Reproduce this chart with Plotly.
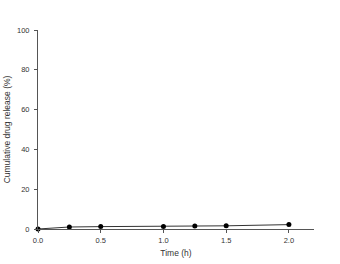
import plotly.graph_objects as go

time_h = [0.0, 0.25, 0.5, 1.0, 1.25, 1.5, 2.0]
release_pct = [0.0, 1.0, 1.2, 1.3, 1.5, 1.6, 2.2]
x_ticks = [0.0, 0.5, 1.0, 1.5, 2.0]
x_tick_labels = ["0.0", "0.5", "1.0", "1.5", "2.0"]
y_ticks = [0, 20, 40, 60, 80, 100]

fig = go.Figure()
fig.add_trace(go.Scatter(
    x=time_h, y=release_pct, mode="lines+markers",
    line=dict(color="#333333", width=1),
    marker=dict(color="black", size=5),
    cliponaxis=False, showlegend=False,
))

font = dict(family="Liberation Sans, Arial, sans-serif", size=7.5, color="#333333")
fig.update_layout(
    width=340, height=264,
    margin=dict(l=38, r=26, t=30, b=35),
    paper_bgcolor="white", plot_bgcolor="white",
    font=font,
    xaxis=dict(range=[0, 2.2], tickvals=x_ticks, ticktext=x_tick_labels,
               showgrid=False, zeroline=False, showline=True, automargin=False,
               linecolor="#555555", linewidth=1, ticks="outside",
               ticklen=3, tickcolor="#555555", ticklabelstandoff=1,
               title=dict(text="Time (h)", font=dict(size=8.5), standoff=6)),
    yaxis=dict(range=[0, 100], tickvals=y_ticks,
               showgrid=False, zeroline=False, showline=True, automargin=False,
               linecolor="#555555", linewidth=1, ticks="outside",
               ticklen=3, tickcolor="#555555", ticklabelstandoff=3,
               title=dict(text="Cumulative drug release (%)", font=dict(size=8.5), standoff=5)),
)
fig.write_html("out.html")
